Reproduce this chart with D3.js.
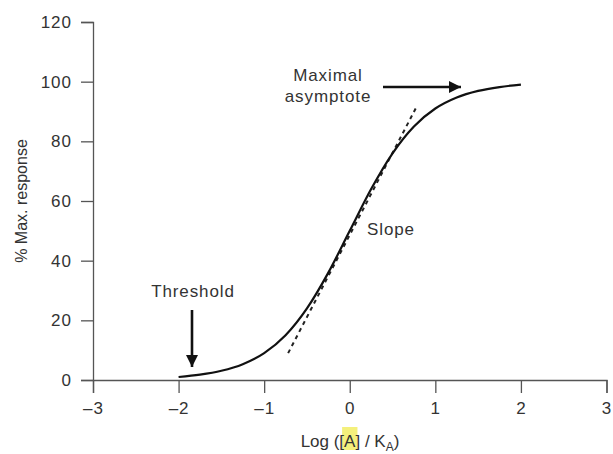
<!DOCTYPE html>
<html>
<head>
<meta charset="utf-8">
<script src="https://cdn.jsdelivr.net/npm/d3@7"></script>
<style>
  body { margin: 0; background: #fff; }
  text { font-family: "Liberation Sans", Arial, sans-serif; fill: #333; }
</style>
</head>
<body>
<script>
//Data
let logConc = [-2, -1.75, -1.5, -1.25, -1, -0.75, -0.5, -0.25, 0, 0.25, 0.5, 0.75, 1, 1.25, 1.5, 1.75, 2];
let response = [1, 1.8, 3.1, 5.3, 9, 15, 24, 36, 50, 64, 76, 85, 91, 94.7, 96.9, 98.2, 99];
let slopeX = [-0.72, 0.77];
let slopeY = [9, 91];
let xTicks = [-3, -2, -1, 0, 1, 2, 3];
let yTicks = [0, 20, 40, 60, 80, 100, 120];

let width = 613,
    height = 454;

let margin = { top: 22, bottom: 74, left: 93, right: 6.5 };

let svg = d3.select('body')
            .append('svg')
            .attr('width', width)
            .attr('height', height)

let defs = svg.append('defs')
defs.append('marker')
    .attr('id', 'head')
    .attr('viewBox', '0 0 10 10')
    .attr('refX', 10).attr('refY', 5)
    .attr('markerWidth', 14).attr('markerHeight', 12)
    .attr('markerUnits', 'userSpaceOnUse')
    .attr('orient', 'auto')
  .append('path')
    .attr('d', 'M0,0 L10,5 L0,10 Z')
    .attr('fill', '#111')

//Scales
let xScale = d3.scaleLinear()
              .domain([-3, 3])
              .range([margin.left, width - margin.right])

let yScale = d3.scaleLinear()
              .domain([0, 120])
              .range([height - margin.bottom, margin.top])

//Axes
let xAxis = svg.append('g')
              .attr('transform', `translate(0, ${yScale(0)})`)
              .call(d3.axisBottom(xScale).tickValues(xTicks).tickSize(13).tickPadding(9)
                      .tickFormat(d => d < 0 ? '\u2013' + Math.abs(d) : d))

let yAxis = svg.append('g')
              .attr('transform', `translate(${xScale(-3)}, 0)`)
              .call(d3.axisLeft(yScale).tickValues(yTicks).tickSize(12).tickPadding(9))

svg.selectAll('.domain').attr('stroke', '#555').attr('stroke-width', 1.3)
svg.selectAll('.tick line').attr('stroke', '#555').attr('stroke-width', 1.3)
svg.selectAll('.tick text')
   .style('font-size', '17px')
   .style('letter-spacing', '1px')
   .attr('fill', '#333')

//Axis labels
let xLab = svg.append('text')
  .attr('x', 350)
  .attr('y', 447)
  .style('font-size', '17px')
  .style('text-anchor', 'middle')

xLab.append('tspan').text('Log ([')
xLab.append('tspan').attr('class', 'hl').text('A')
xLab.append('tspan').text('] / K')
xLab.append('tspan').attr('dy', 4).style('font-size', '12px').text('A')
xLab.append('tspan').attr('dy', -4).text(')')

//yellow highlight behind the A
let hl = xLab.select('.hl').node()
let hs = hl.getStartPositionOfChar(0)
let he = hl.getEndPositionOfChar(0)
svg.insert('rect', 'g')
   .attr('x', hs.x - 2)
   .attr('y', 427)
   .attr('width', he.x - hs.x + 4)
   .attr('height', 23)
   .attr('fill', '#f4f07c')

svg.append('text')
    .attr('transform', `translate(27, 201) rotate(-90)`)
    .style('font-size', '16px')
    .style('text-anchor', 'middle')
    .text('% Max. response')

//tangent
svg.append('line')
   .attr('x1', xScale(slopeX[0])).attr('y1', yScale(slopeY[0]))
   .attr('x2', xScale(slopeX[1])).attr('y2', yScale(slopeY[1]))
   .attr('stroke', '#222')
   .attr('stroke-width', 2)
   .attr('stroke-dasharray', '4,4')

//curve
let line = d3.line()
            .x((d, i) => xScale(logConc[i]))
            .y(d => yScale(d))
            .curve(d3.curveMonotoneX)

svg.append('path')
   .datum(response)
   .attr('d', line)
   .attr('stroke', '#111')
   .attr('stroke-width', 2.2)
   .attr('fill', 'none')

//annotations
let note = (x, y, t) => svg.append('text')
  .attr('x', x).attr('y', y)
  .style('font-size', '17px')
  .style('letter-spacing', '0.9px')
  .style('text-anchor', 'middle')
  .text(t)

note(193, 297, 'Threshold')
note(328, 81, 'Maximal')
note(328, 102, 'asymptote')
note(391, 235, 'Slope')

svg.append('line')
   .attr('x1', 192).attr('y1', 310)
   .attr('x2', 192).attr('y2', 367)
   .attr('stroke', '#111').attr('stroke-width', 2.6)
   .attr('marker-end', 'url(#head)')

svg.append('line')
   .attr('x1', 383).attr('y1', 87)
   .attr('x2', 461).attr('y2', 87)
   .attr('stroke', '#111').attr('stroke-width', 2.6)
   .attr('marker-end', 'url(#head)')
</script>
</body>
</html>
